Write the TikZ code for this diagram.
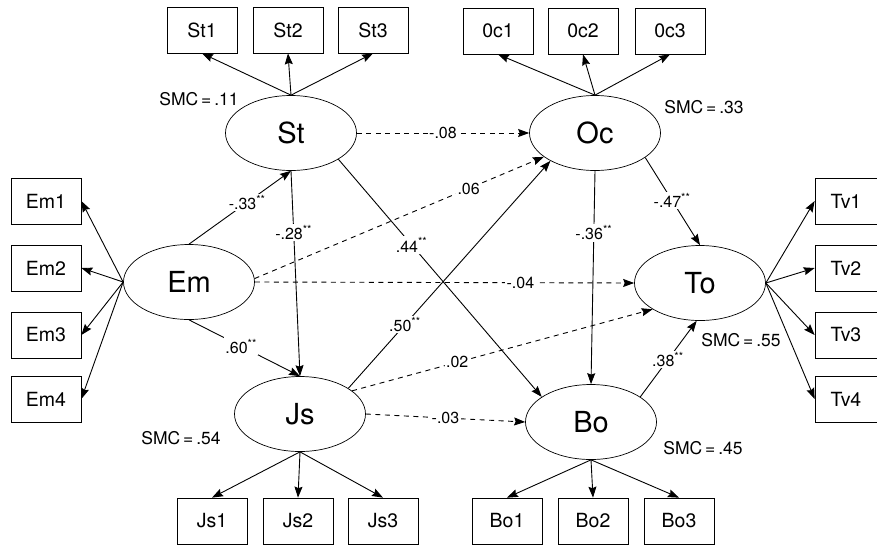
\documentclass[tikz,border=0pt]{standalone}
\usepackage{fontspec}
\setmainfont{TeX Gyre Heros}
\usetikzlibrary{arrows.meta,shapes.geometric}

\begin{document}
\begin{tikzpicture}[x=1pt,y=-1pt,
  line width=0.9pt,
  latent/.style={ellipse,draw,line width=0.7pt,minimum width=131pt,minimum height=75pt,inner sep=0pt,
    font=\fontsize{29}{31}\selectfont},
  indicator/.style={rectangle,draw,line width=0.7pt,minimum width=70pt,minimum height=46pt,inner sep=0pt,
    font=\fontsize{19.5}{21}\selectfont},
  indicatorR/.style={indicator,minimum width=62pt},
  path/.style={-{Stealth[length=11pt,width=8pt,inset=1.5pt]}},
  nspath/.style={path,dash pattern=on 5pt off 4.5pt},
  coef/.style={fill=white,inner sep=1.5pt,font=\fontsize{16}{18}\selectfont},
  smc/.style={inner sep=0pt,font=\fontsize{17.5}{19}\selectfont}]
\useasboundingbox (0,0) rectangle (877,547);

% latent variables
\node[latent] (St) at (291,133) {St};
\node[latent] (Oc) at (595,133) {Oc};
\node[latent] (Em) at (189,282) {Em};
\node[latent] (To) at (700,283) {To};
\node[latent] (Js) at (300,414) {Js};
\node[latent] (Bo) at (591,422) {Bo};

% indicators
\node[indicator] (St1) at (202,30) {St1};
\node[indicator] (St2) at (288,30) {St2};
\node[indicator] (St3) at (373,30) {St3};
\node[indicator] (Oc1) at (498,31) {0c1};
\node[indicator] (Oc2) at (583,31) {0c2};
\node[indicator] (Oc3) at (670,31) {0c3};
\node[indicator] (Em1) at (46,201) {Em1};
\node[indicator] (Em2) at (46,268) {Em2};
\node[indicator] (Em3) at (46,335) {Em3};
\node[indicator] (Em4) at (46,399) {Em4};
\node[indicatorR] (Tv1) at (846,201) {Tv1};
\node[indicatorR] (Tv2) at (846,268) {Tv2};
\node[indicatorR] (Tv3) at (846,335) {Tv3};
\node[indicatorR] (Tv4) at (846,399) {Tv4};
\node[indicator] (Js1) at (212,521) {Js1};
\node[indicator] (Js2) at (298,521) {Js2};
\node[indicator] (Js3) at (383,521) {Js3};
\node[indicator] (Bo1) at (507,521) {Bo1};
\node[indicator] (Bo2) at (593,521) {Bo2};
\node[indicator] (Bo3) at (679,521) {Bo3};

% measurement paths
\foreach \i in {1,2,3} {
  \draw[path] (St.north) -- (St\i.south);
  \draw[path] (Oc.north) -- (Oc\i.south);
  \draw[path] (Js.south) -- (Js\i.north);
  \draw[path] (Bo.south) -- (Bo\i.north);
}
\foreach \i in {1,2,3,4} {
  \draw[path] (Em.west) -- (Em\i.east);
  \draw[path] (To.east) -- (Tv\i.west);
}

% structural paths, significant
\draw[path] (Em.north) -- node[coef,pos=0.57] {-.33\textsuperscript{**}} (St.south);
\draw[path] (St.south) -- node[coef,pos=0.30] {-.28\textsuperscript{**}} (Js.north);
\draw[path] (Em.south) -- node[coef,pos=0.47] {.60\textsuperscript{**}} (Js.north);
\draw[path] (St.-29) -- node[coef,pos=0.36] {.44\textsuperscript{**}} (Bo.153);
\draw[path] (Js.28) -- node[coef,pos=0.28] {.50\textsuperscript{**}} (Oc.212);
\draw[path] (Oc.south) -- node[coef,pos=0.29] {-.36\textsuperscript{**}} (Bo.north);
\draw[path] (Oc.-26) -- node[coef,pos=0.49] {-.47\textsuperscript{**}} (To.north);
\draw[path] (Bo.27) -- node[coef,pos=0.49] {.38\textsuperscript{**}} (To.265);

% structural paths, non-significant
\draw[nspath] (St.east) -- node[coef,pos=0.5] {-.08} (Oc.west);
\draw[nspath] (Em.3) -- node[coef,pos=0.74] {.06} (Oc.205);
\draw[nspath] (Em.east) -- node[coef,pos=0.70] {-.04} (To.west);
\draw[nspath] (Js.24) -- node[coef,pos=0.35] {.02} (To.209);
\draw[nspath] (Js.east) -- node[coef,pos=0.5] {-.03} (Bo.west);

% squared multiple correlations
\node[smc] (smcSt) at (199,99) {SMC\,=\,.11};
\node[smc] (smcOc) at (704,107) {SMC\,=\,.33};
\node[smc] (smcTo) at (741,340) {SMC\,=\,.55};
\node[smc] (smcJs) at (181,438) {SMC\,=\,.54};
\node[smc] (smcBo) at (703,448) {SMC\,=\,.45};
\end{tikzpicture}
\end{document}
